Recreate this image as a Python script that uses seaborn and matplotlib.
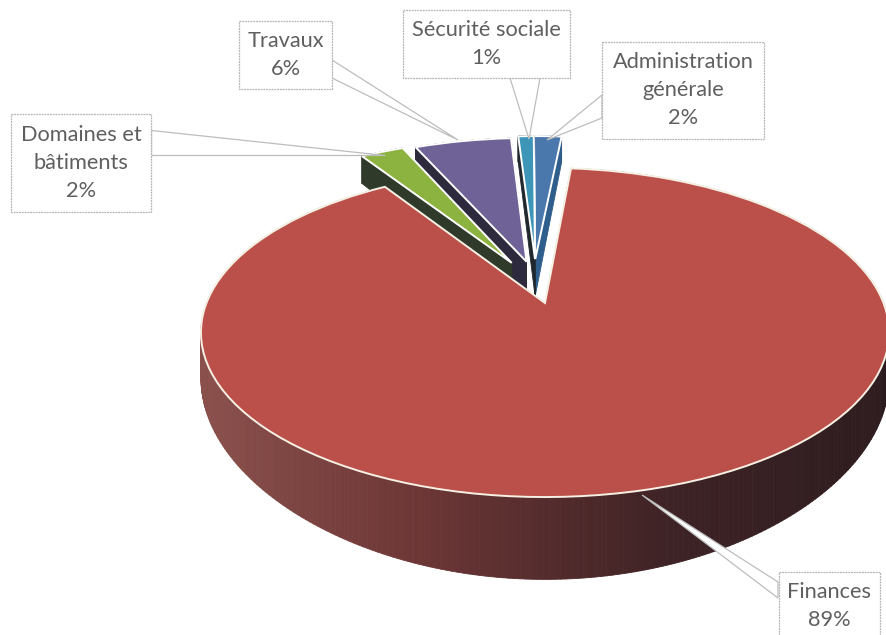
import numpy as np
import matplotlib
matplotlib.use("Agg")
import matplotlib.pyplot as plt
import seaborn as sns
from matplotlib.collections import PolyCollection
from matplotlib.patches import Rectangle
from matplotlib.transforms import Transform

# values, labels show them rounded
categories = ["Finances", "Domaines et\nbâtiments", "Travaux", "Sécurité sociale", "Administration\ngénérale"]
shares = [89.4, 2.5, 5.6, 0.9, 1.6]
explode = [0, 0.30, 0.28, 0.29, 0.29]

top_colors = ["#bb4f49", "#8cb23f", "#6f6296", "#3d95b8", "#4a78ac"]
wall_colors = [None, "#2f3a2a", "#2c2a3c", "#20282e", "#2f5d8c"]
wall_ramp = ["#8a504c", "#6a3534", "#3f2326", "#2d1c1f"]

# sideways shift of each exploded slice, the source does not explode quite radially
nudge_x = [0, 0.04, 0.01, -0.02, -0.042]

# label boxes in pixels: x0, y0, x1, y1
boxes = [(779, 572, 880, 640), (11, 114, 151, 212), (239, 21, 332, 89), (403, 10, 570, 78), (602, 42, 764, 139)]
leaders = [
    [(778, 582), (778, 598), (642, 495)],
    [(151, 130), (151, 155), (385, 155)],
    [(332, 60), (332, 78), (458, 140)],
    [(510, 78), (540, 78), (529, 139)],
    [(602, 95), (602, 118), (547, 140)],
]

# draw order: back slices first, Finances last
draw_order = [4, 3, 2, 1, 0]

X0, Y0, A, B, P = 545, 303, 338.5, 159.3, 0.179
D, PD = 42, 0.49


class Tilt(Transform):
    # perspective of the pie plane onto the page, in pixels
    input_dims = 2
    output_dims = 2

    def transform_non_affine(self, xy):
        xy = np.asarray(xy, dtype=float)
        w = 1 + P * xy[:, 1]
        return np.column_stack([X0 + A * xy[:, 0] / w, Y0 - B * xy[:, 1] / w])


def outline(wedge, n=400):
    t = np.radians(np.linspace(wedge.theta1, wedge.theta2, n))
    cx, cy = wedge.center
    xs = np.r_[cx, cx + wedge.r * np.cos(t), cx]
    ys = np.r_[cy, cy + wedge.r * np.sin(t), cy]
    return np.column_stack([xs, ys])


def wall_quads(wedge, tilt):
    pts = outline(wedge)
    top = tilt.transform_non_affine(pts)
    bottom = top + np.column_stack([np.zeros(len(pts)), D / (1 + PD * pts[:, 1])])
    return [[top[i], top[i + 1], bottom[i + 1], bottom[i]] for i in range(len(pts) - 1)]


sns.set_theme(style="white")
plt.rcParams["font.family"] = ["Lato", "DejaVu Sans"]

fig = plt.figure(figsize=(8.87, 6.35), dpi=100)
ax = fig.add_axes([0, 0, 1, 1])

wedges, _ = ax.pie(shares, explode=explode, colors=top_colors, startangle=84.8, counterclock=False)
ax.set_aspect("auto")
ax.set_xlim(0, 887)
ax.set_ylim(635, 0)
ax.axis("off")

tilt = Tilt()
ramp = sns.blend_palette(wall_ramp, 128)
z = 2
for i in draw_order:
    w = wedges[i]
    w.set_center((w.center[0] + nudge_x[i], w.center[1]))
    quads = wall_quads(w, tilt)
    if wall_colors[i] is None:
        mid_x = np.array([np.mean(q, axis=0)[0] for q in quads])
        idx = np.clip(((mid_x - 201) / 686 * 127).astype(int), 0, 127)
        cols = [ramp[k] for k in idx]
    else:
        cols = [wall_colors[i]] * len(quads)
    ax.add_collection(PolyCollection(quads, facecolors=cols, edgecolors=cols, linewidths=0.6, zorder=z))
    w.set_transform(tilt + ax.transData)
    w.set_zorder(z + 1)
    w.set_edgecolor("#f6f1e4" if i == 0 else "white")
    w.set_linewidth(1.4)
    z += 2

for i, name in enumerate(categories):
    ax.fill(*zip(*leaders[i]), facecolor="white", edgecolor="#bdbdbd", linewidth=0.9, zorder=20)
    x0, y0, x1, y1 = boxes[i]
    ax.add_patch(Rectangle((x0, y0), x1 - x0, y1 - y0, facecolor="white", edgecolor="#b4b4b4",
                           linewidth=0.9, linestyle=(0, (1.5, 0.7)), zorder=21))
    ax.text((x0 + x1) / 2, (y0 + y1) / 2, f"{name}\n{shares[i]:.0f}%", ha="center", va="center",
            fontsize=15.7, color="#5f5f5f", linespacing=1.5, zorder=22)

fig.savefig("out.png", dpi=100)
